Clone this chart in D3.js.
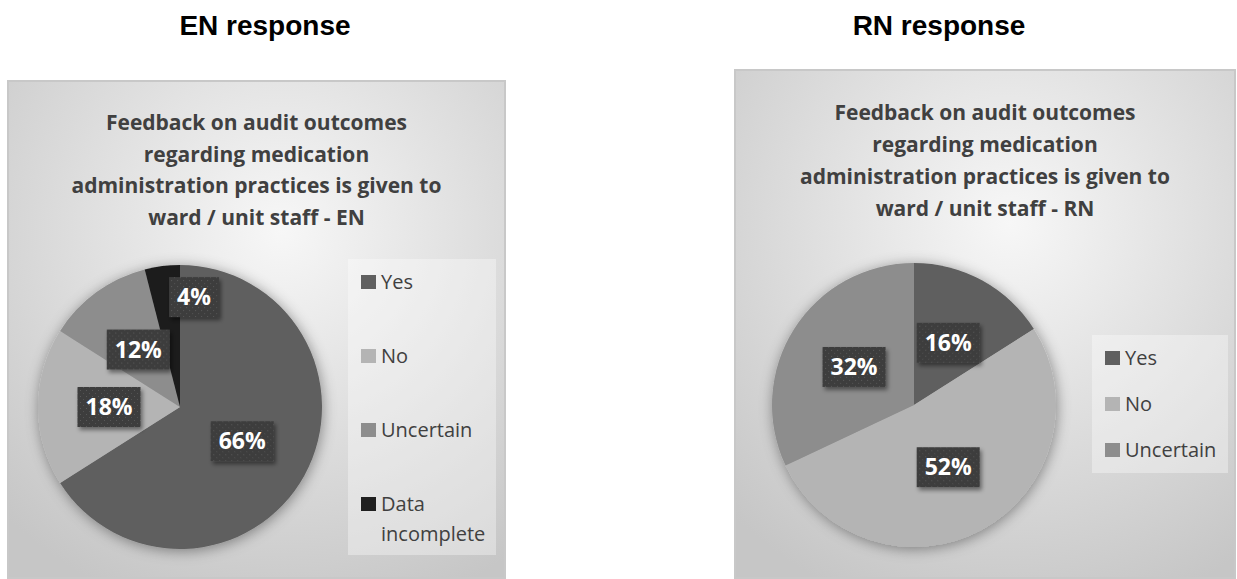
<!doctype html>
<html lang="en">
<head>
<meta charset="UTF-8">
<title>EN and RN response - feedback on audit outcomes</title>
<script src="https://d3js.org/d3.v7.min.js"></script>
<style>
body { margin: 0; background-color: #ffffff; }
svg { display: block; }
.header { font-family: "Liberation Sans", Arial, sans-serif; font-weight: bold; font-size: 28px; fill: #000000; }
.title { font-family: "Open Sans", sans-serif; font-weight: bold; font-size: 21px; fill: #404040; }
.legend text { font-family: "Open Sans", sans-serif; font-size: 20px; fill: #404040; }
.label text { font-family: "Open Sans", sans-serif; font-weight: bold; font-size: 23px; fill: #ffffff; }
</style>
</head>
<body>
<div id="plot"></div>
<script>

// data
var categoriesEN = ["Yes", "No", "Uncertain", "Data incomplete"];
var valuesEN = [66, 18, 12, 4];
var categoriesRN = ["Yes", "No", "Uncertain"];
var valuesRN = [16, 52, 32];

var titleEN = ["Feedback on audit outcomes", "regarding medication",
	"administration practices is given to", "ward / unit staff - EN"];
var titleRN = ["Feedback on audit outcomes", "regarding medication",
	"administration practices is given to", "ward / unit staff - RN"];

var width = 1237;
var height = 579;

var color = d3.scaleOrdinal()
	.domain(["Yes", "No", "Uncertain", "Data incomplete"])
	.range(["#5f5f5f", "#b4b4b4", "#8d8d8d", "#1f1f1f"]);

var svg = d3.select("#plot").append("svg")
	.attr("width", width)
	.attr("height", height);

var defs = svg.append("defs");

var grad = defs.append("radialGradient")
	.attr("id", "panelBg")
	.attr("cx", "55%").attr("cy", "30%").attr("r", "80%");
grad.append("stop").attr("offset", "0%").attr("stop-color", "#f7f7f7");
grad.append("stop").attr("offset", "100%").attr("stop-color", "#c6c6c6");

var pieShadow = defs.append("filter").attr("id", "pieShadow")
	.attr("x", "-20%").attr("y", "-20%").attr("width", "140%").attr("height", "140%");
pieShadow.append("feDropShadow")
	.attr("dx", 1).attr("dy", 2).attr("stdDeviation", 7)
	.attr("flood-color", "#000").attr("flood-opacity", 0.4);

var boxShadow = defs.append("filter").attr("id", "boxShadow")
	.attr("x", "-20%").attr("y", "-20%").attr("width", "150%").attr("height", "150%");
boxShadow.append("feDropShadow")
	.attr("dx", 2).attr("dy", 3).attr("stdDeviation", 2)
	.attr("flood-color", "#000").attr("flood-opacity", 0.45);

var dots = defs.append("pattern").attr("id", "dots")
	.attr("patternUnits", "userSpaceOnUse").attr("width", 6).attr("height", 6);
dots.append("rect").attr("width", 6).attr("height", 6).attr("fill", "#3e3e3e");
dots.append("rect").attr("x", 1).attr("y", 1).attr("width", 1).attr("height", 1).attr("fill", "#585858");
dots.append("rect").attr("x", 4).attr("y", 4).attr("width", 1).attr("height", 1).attr("fill", "#525252");

// headers
svg.append("text").attr("class", "header")
	.attr("x", 265).attr("y", 35).attr("text-anchor", "middle").text("EN response");
svg.append("text").attr("class", "header")
	.attr("x", 939).attr("y", 35).attr("text-anchor", "middle").text("RN response");

function drawPanel(opt) {
	var g = svg.append("g");

	g.append("rect")
		.attr("x", opt.x).attr("y", opt.y)
		.attr("width", opt.w).attr("height", opt.h)
		.attr("fill", "url(#panelBg)")
		.attr("stroke", "#c8c8c8").attr("stroke-width", 2);

	// title
	opt.title.forEach(function (line, i) {
		g.append("text").attr("class", "title")
			.attr("x", opt.x + opt.w / 2)
			.attr("y", opt.titleY + i * opt.lineH)
			.attr("text-anchor", "middle")
			.text(line);
	});

	var pie = d3.pie().sort(null).value(function (d) { return d; });
	var arcs = pie(opt.values);
	var arc = d3.arc().innerRadius(0).outerRadius(opt.r);
	var labelArc = d3.arc().innerRadius(opt.r * 0.5).outerRadius(opt.r * 0.5);
	var smallArc = d3.arc().innerRadius(opt.r * 0.78).outerRadius(opt.r * 0.78);

	var pg = g.append("g")
		.attr("transform", "translate(" + opt.cx + "," + opt.cy + ")");

	pg.append("g").attr("filter", "url(#pieShadow)")
		.selectAll("path").data(arcs).enter().append("path")
		.attr("d", arc)
		.attr("fill", function (d, i) { return color(opt.categories[i]); });

	// data labels
	var total = d3.sum(opt.values);
	arcs.forEach(function (d) {
		var share = d.data / total;
		var txt = Math.round(share * 100) + "%";
		var lg = pg.append("g").attr("class", "label");
		var t = lg.append("text").attr("text-anchor", "middle").attr("dy", "0.36em").text(txt);
		var bw = t.node().getComputedTextLength() + 16;
		var bh = 40;
		var p, cxBox;
		if (share < 0.06) {
			p = smallArc.centroid(d);
			cxBox = p[0] + 3 + bw / 2;
		} else {
			p = labelArc.centroid(d);
			cxBox = p[0];
		}
		lg.attr("transform", "translate(" + cxBox + "," + p[1] + ")");
		lg.insert("rect", "text")
			.attr("x", -bw / 2).attr("y", -bh / 2)
			.attr("width", bw).attr("height", bh)
			.attr("fill", "url(#dots)")
			.attr("filter", "url(#boxShadow)");
	});

	// legend
	var lgBox = g.append("g").attr("class", "legend");
	lgBox.append("rect")
		.attr("x", opt.legX).attr("y", opt.legY)
		.attr("width", opt.legW).attr("height", opt.legH)
		.attr("fill", "#ffffff").attr("fill-opacity", 0.35);

	var slot = opt.legH / opt.categories.length;
	opt.categories.forEach(function (c, i) {
		var y0 = opt.legY + i * slot + 23;
		lgBox.append("rect")
			.attr("x", opt.legX + 13).attr("y", y0 - 7)
			.attr("width", 15).attr("height", 14)
			.attr("fill", color(c));
		var t = lgBox.append("text")
			.attr("x", opt.legX + 33).attr("y", y0).attr("dy", "0.36em");
		// wrap long entries
		var words = c.split(" ");
		var line = [], tspan = t.append("tspan").attr("x", opt.legX + 33);
		words.forEach(function (w) {
			line.push(w);
			tspan.text(line.join(" "));
			if (tspan.node().getComputedTextLength() > opt.legW - 40 && line.length > 1) {
				line.pop();
				tspan.text(line.join(" "));
				line = [w];
				tspan = t.append("tspan").attr("x", opt.legX + 33).attr("dy", 30).text(w);
			}
		});
	});
}

drawPanel({
	x: 8, y: 81, w: 497, h: 497,
	title: titleEN, titleY: 130, lineH: 31.7,
	categories: categoriesEN, values: valuesEN,
	cx: 180, cy: 407, r: 142,
	legX: 348, legY: 259, legW: 148, legH: 296
});

drawPanel({
	x: 735, y: 70, w: 500, h: 508,
	title: titleRN, titleY: 120, lineH: 32,
	categories: categoriesRN, values: valuesRN,
	cx: 914, cy: 405, r: 142,
	legX: 1092, legY: 335, legW: 136, legH: 138
});

</script>
</body>
</html>
